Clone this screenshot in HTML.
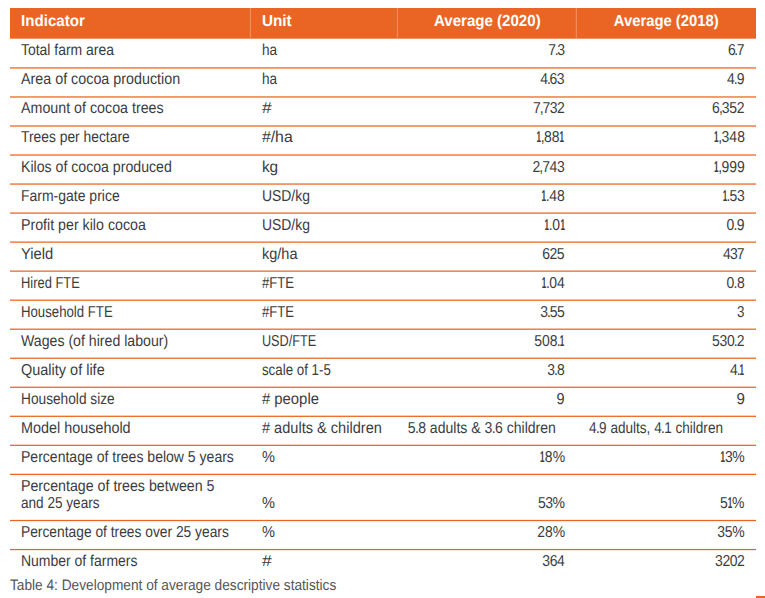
<!DOCTYPE html>
<html><head><meta charset="utf-8">
<style>
html,body{margin:0;padding:0;background:#fff;}
body{width:765px;height:598px;position:relative;overflow:hidden;font-family:"Liberation Sans",sans-serif;color:#3c3c3e;}
.bg{position:absolute;left:0;top:0;display:block;}
.t{position:absolute;white-space:nowrap;transform-origin:0 0;text-rendering:geometricPrecision;}
i{font-style:normal;}
.o{display:inline-block;font-weight:bold;transform:scaleX(0.58);margin:0 -1.55px 0 -1.9px;}
.p{margin:0 -0.75px;}
.h{color:#fff;font-weight:bold;}
.cap{color:#555557;}
</style></head><body>
<div id="rows">
<svg class="bg" width="765" height="598" viewBox="0 0 765 598"><rect x="10" y="8" width="746" height="30.7" fill="#ea6524"/><rect x="249.9" y="8" width="1" height="30.7" fill="#f3a27c" opacity="0.75"/><rect x="396.9" y="8" width="1" height="30.7" fill="#f3a27c" opacity="0.75"/><rect x="575.8" y="8" width="1" height="30.7" fill="#f3a27c" opacity="0.75"/><rect x="10" y="67.31" width="746" height="1.25" fill="#ea6524"/><rect x="10" y="96.34" width="746" height="1.25" fill="#ea6524"/><rect x="10" y="125.37" width="746" height="1.25" fill="#ea6524"/><rect x="10" y="154.40" width="746" height="1.25" fill="#ea6524"/><rect x="10" y="183.43" width="746" height="1.25" fill="#ea6524"/><rect x="10" y="212.46" width="746" height="1.25" fill="#ea6524"/><rect x="10" y="241.49" width="746" height="1.25" fill="#ea6524"/><rect x="10" y="270.51" width="746" height="1.25" fill="#ea6524"/><rect x="10" y="299.55" width="746" height="1.25" fill="#ea6524"/><rect x="10" y="328.57" width="746" height="1.25" fill="#ea6524"/><rect x="10" y="357.61" width="746" height="1.25" fill="#ea6524"/><rect x="10" y="386.64" width="746" height="1.25" fill="#ea6524"/><rect x="10" y="415.67" width="746" height="1.25" fill="#ea6524"/><rect x="10" y="444.69" width="746" height="1.25" fill="#ea6524"/><rect x="10" y="473.73" width="746" height="1.25" fill="#ea6524"/><rect x="10" y="519.88" width="746" height="1.25" fill="#ea6524"/><rect x="10" y="548.92" width="746" height="1.25" fill="#ea6524"/><rect x="756" y="596" width="9" height="2" fill="#ea6524"/></svg>
<div id="a0" class="t " style="left:21px;top:42px;font-size:15.8px;line-height:17.649px;transform:translateX(0.00px) scaleX(0.8829)">Total farm area</div>
<div id="a1" class="t " style="left:21px;top:71px;font-size:15.8px;line-height:17.649px;transform:translateX(0.00px) scaleX(0.9059)">Area of cocoa production</div>
<div id="a2" class="t " style="left:21px;top:100px;font-size:15.8px;line-height:17.649px;transform:translateX(0.00px) scaleX(0.9026)">Amount of cocoa trees</div>
<div id="a3" class="t " style="left:21px;top:129px;font-size:15.8px;line-height:17.649px;transform:translateX(0.00px) scaleX(0.8758)">Trees per hectare</div>
<div id="a4" class="t " style="left:21px;top:159px;font-size:15.8px;line-height:17.649px;transform:translateX(0.00px) scaleX(0.8942)">Kilos of cocoa produced</div>
<div id="a5" class="t " style="left:21px;top:188px;font-size:15.8px;line-height:17.649px;transform:translateX(0.00px) scaleX(0.8849)">Farm-gate price</div>
<div id="a6" class="t " style="left:21px;top:217px;font-size:15.8px;line-height:17.649px;transform:translateX(0.00px) scaleX(0.8997)">Profit per kilo cocoa</div>
<div id="a7" class="t " style="left:21px;top:246px;font-size:15.8px;line-height:17.649px;transform:translateX(0.00px) scaleX(0.9344)">Yield</div>
<div id="a8" class="t " style="left:21px;top:275px;font-size:15.8px;line-height:17.649px;transform:translateX(0.00px) scaleX(0.8171)">Hired FTE</div>
<div id="a9" class="t " style="left:21px;top:304px;font-size:15.8px;line-height:17.649px;transform:translateX(0.00px) scaleX(0.8355)">Household FTE</div>
<div id="a10" class="t " style="left:21px;top:333px;font-size:15.8px;line-height:17.649px;transform:translateX(0.00px) scaleX(0.8947)">Wages (of hired labour)</div>
<div id="a11" class="t " style="left:21px;top:362px;font-size:15.8px;line-height:17.649px;transform:translateX(0.00px) scaleX(0.9165)">Quality of life</div>
<div id="a12" class="t " style="left:21px;top:391px;font-size:15.8px;line-height:17.649px;transform:translateX(0.00px) scaleX(0.8674)">Household size</div>
<div id="a13" class="t " style="left:21px;top:420px;font-size:15.8px;line-height:17.649px;transform:translateX(0.00px) scaleX(0.9111)">Model household</div>
<div id="a14" class="t " style="left:21px;top:449px;font-size:15.8px;line-height:17.649px;transform:translateX(0.00px) scaleX(0.8880)">Percentage of trees below 5 years</div>
<div id="a15" class="t " style="left:21px;top:478px;font-size:15.8px;line-height:17.649px;transform:translateX(0.00px) scaleX(0.8992)">Percentage of trees between 5</div>
<div id="a16" class="t " style="left:21px;top:524px;font-size:15.8px;line-height:17.649px;transform:translateX(0.00px) scaleX(0.8732)">Percentage of trees over 25 years</div>
<div id="a17" class="t " style="left:21px;top:553px;font-size:15.8px;line-height:17.649px;transform:translateX(0.00px) scaleX(0.8846)">Number of farmers</div>
<div id="a15b" class="t " style="left:21px;top:495px;font-size:15.8px;line-height:17.649px;transform:translateX(0.00px) scaleX(0.8594)">and 25 years</div>
<div id="b0" class="t " style="left:261px;top:42px;font-size:15.8px;line-height:17.649px;transform:translateX(0.90px) scaleX(0.8580)">ha</div>
<div id="b1" class="t " style="left:261px;top:71px;font-size:15.8px;line-height:17.649px;transform:translateX(0.90px) scaleX(0.8580)">ha</div>
<div id="b2" class="t " style="left:261px;top:100px;font-size:15.8px;line-height:17.649px;transform:translateX(0.90px) scaleX(1.1057)">#</div>
<div id="b3" class="t " style="left:261px;top:129px;font-size:15.8px;line-height:17.649px;transform:translateX(0.90px) scaleX(1.0024)">#/ha</div>
<div id="b4" class="t " style="left:261px;top:159px;font-size:15.8px;line-height:17.649px;transform:translateX(0.90px) scaleX(0.9754)">kg</div>
<div id="b5" class="t " style="left:261px;top:188px;font-size:15.8px;line-height:17.649px;transform:translateX(0.90px) scaleX(0.8831)">USD/kg</div>
<div id="b6" class="t " style="left:261px;top:217px;font-size:15.8px;line-height:17.649px;transform:translateX(0.90px) scaleX(0.8831)">USD/kg</div>
<div id="b7" class="t " style="left:261px;top:246px;font-size:15.8px;line-height:17.649px;transform:translateX(0.90px) scaleX(0.9219)">kg/ha</div>
<div id="b8" class="t " style="left:261px;top:275px;font-size:15.8px;line-height:17.649px;transform:translateX(0.90px) scaleX(0.8312)">#FTE</div>
<div id="b9" class="t " style="left:261px;top:304px;font-size:15.8px;line-height:17.649px;transform:translateX(0.90px) scaleX(0.8312)">#FTE</div>
<div id="b10" class="t " style="left:261px;top:333px;font-size:15.8px;line-height:17.649px;transform:translateX(0.90px) scaleX(0.8035)">USD/FTE</div>
<div id="b11" class="t " style="left:261px;top:362px;font-size:15.8px;line-height:17.649px;transform:translateX(0.90px) scaleX(0.8452)">scale of 1-5</div>
<div id="b12" class="t " style="left:261px;top:391px;font-size:15.8px;line-height:17.649px;transform:translateX(0.90px) scaleX(0.9414)"># people</div>
<div id="b13" class="t " style="left:261px;top:420px;font-size:15.8px;line-height:17.649px;transform:translateX(0.90px) scaleX(0.9230)"># adults &amp; children</div>
<div id="b14" class="t " style="left:261px;top:449px;font-size:15.8px;line-height:17.649px;transform:translateX(0.90px) scaleX(0.9202)">%</div>
<div id="b15" class="t " style="left:261px;top:495px;font-size:15.8px;line-height:17.649px;transform:translateX(0.90px) scaleX(0.9202)">%</div>
<div id="b16" class="t " style="left:261px;top:524px;font-size:15.8px;line-height:17.649px;transform:translateX(0.90px) scaleX(0.9202)">%</div>
<div id="b17" class="t " style="left:261px;top:553px;font-size:15.8px;line-height:17.649px;transform:translateX(0.90px) scaleX(1.1057)">#</div>
<div id="c0" class="t " style="left:548px;top:42px;font-size:15.8px;line-height:17.649px;letter-spacing:-0.681px;transform:translateX(0.16px) scaleX(0.8850)">7<i class="p">.</i>3</div>
<div id="c1" class="t " style="left:540px;top:71px;font-size:15.8px;line-height:17.649px;letter-spacing:-0.605px;transform:translateX(0.31px) scaleX(0.8850)">4<i class="p">.</i>63</div>
<div id="c2" class="t " style="left:533px;top:100px;font-size:15.8px;line-height:17.649px;letter-spacing:-0.578px;transform:translateX(0.12px) scaleX(0.8850)">7<i class="p">,</i>732</div>
<div id="c3" class="t " style="left:536px;top:129px;font-size:15.8px;line-height:17.649px;letter-spacing:0.042px;transform:translateX(0.58px) scaleX(0.8850)"><i class="o">1</i><i class="p">,</i>88<i class="o">1</i></div>
<div id="c4" class="t " style="left:532px;top:159px;font-size:15.8px;line-height:17.649px;letter-spacing:-0.414px;transform:translateX(0.53px) scaleX(0.8850)">2<i class="p">,</i>743</div>
<div id="c5" class="t " style="left:541px;top:188px;font-size:15.8px;line-height:17.649px;letter-spacing:0.049px;transform:translateX(0.75px) scaleX(0.8850)"><i class="o">1</i><i class="p">.</i>48</div>
<div id="c6" class="t " style="left:544px;top:217px;font-size:15.8px;line-height:17.649px;letter-spacing:0.122px;transform:translateX(0.68px) scaleX(0.8850)"><i class="o">1</i><i class="p">.</i>0<i class="o">1</i></div>
<div id="c7" class="t " style="left:542px;top:246px;font-size:15.8px;line-height:17.649px;letter-spacing:-0.542px;transform:translateX(0.25px) scaleX(0.8850)">625</div>
<div id="c8" class="t " style="left:541px;top:275px;font-size:15.8px;line-height:17.649px;letter-spacing:0.107px;transform:translateX(0.75px) scaleX(0.8850)"><i class="o">1</i><i class="p">.</i>04</div>
<div id="c9" class="t " style="left:540px;top:304px;font-size:15.8px;line-height:17.649px;letter-spacing:-0.544px;transform:translateX(0.31px) scaleX(0.8850)">3<i class="p">.</i>55</div>
<div id="c10" class="t " style="left:534px;top:333px;font-size:15.8px;line-height:17.649px;letter-spacing:-0.034px;transform:translateX(0.19px) scaleX(0.8850)">508<i class="p">.</i><i class="o">1</i></div>
<div id="c11" class="t " style="left:547px;top:362px;font-size:15.8px;line-height:17.649px;letter-spacing:-0.401px;transform:translateX(0.31px) scaleX(0.8850)">3<i class="p">.</i>8</div>
<div id="c12" class="t " style="left:556px;top:391px;font-size:15.8px;line-height:17.649px;transform:translateX(0.62px) scaleX(0.9161)">9</div>
<div id="c14" class="t " style="left:540px;top:449px;font-size:15.8px;line-height:17.649px;letter-spacing:0.054px;transform:translateX(0.06px) scaleX(0.8850)"><i class="o">1</i>8%</div>
<div id="c15" class="t " style="left:538px;top:495px;font-size:15.8px;line-height:17.649px;letter-spacing:-0.576px;transform:translateX(0.04px) scaleX(0.8850)">53%</div>
<div id="c16" class="t " style="left:537px;top:524px;font-size:15.8px;line-height:17.649px;letter-spacing:-0.048px;transform:translateX(0.21px) scaleX(0.8850)">28%</div>
<div id="c17" class="t " style="left:542px;top:553px;font-size:15.8px;line-height:17.649px;letter-spacing:-0.438px;transform:translateX(0.31px) scaleX(0.8850)">364</div>
<div id="d0" class="t " style="left:727px;top:42px;font-size:15.8px;line-height:17.649px;letter-spacing:-0.859px;transform:translateX(0.94px) scaleX(0.8850)">6<i class="p">.</i>7</div>
<div id="d1" class="t " style="left:727px;top:71px;font-size:15.8px;line-height:17.649px;letter-spacing:-0.444px;transform:translateX(0.08px) scaleX(0.8850)">4<i class="p">.</i>9</div>
<div id="d2" class="t " style="left:712px;top:100px;font-size:15.8px;line-height:17.649px;letter-spacing:-0.371px;transform:translateX(0.12px) scaleX(0.8850)">6<i class="p">,</i>352</div>
<div id="d3" class="t " style="left:714px;top:129px;font-size:15.8px;line-height:17.649px;letter-spacing:0.056px;transform:translateX(0.08px) scaleX(0.8850)"><i class="o">1</i><i class="p">,</i>348</div>
<div id="d4" class="t " style="left:714px;top:159px;font-size:15.8px;line-height:17.649px;letter-spacing:0.006px;transform:translateX(0.08px) scaleX(0.8850)"><i class="o">1</i><i class="p">,</i>999</div>
<div id="d5" class="t " style="left:722px;top:188px;font-size:15.8px;line-height:17.649px;letter-spacing:-0.394px;transform:translateX(0.88px) scaleX(0.8850)"><i class="o">1</i><i class="p">.</i>53</div>
<div id="d6" class="t " style="left:726px;top:217px;font-size:15.8px;line-height:17.649px;letter-spacing:0.011px;transform:translateX(0.40px) scaleX(0.8850)">0<i class="p">.</i>9</div>
<div id="d7" class="t " style="left:723px;top:246px;font-size:15.8px;line-height:17.649px;letter-spacing:-0.997px;transform:translateX(0.08px) scaleX(0.8850)">437</div>
<div id="d8" class="t " style="left:726px;top:275px;font-size:15.8px;line-height:17.649px;letter-spacing:0.113px;transform:translateX(0.40px) scaleX(0.8850)">0<i class="p">.</i>8</div>
<div id="d9" class="t " style="left:736px;top:304px;font-size:15.8px;line-height:17.649px;transform:translateX(0.94px) scaleX(0.8480)">3</div>
<div id="d10" class="t " style="left:712px;top:333px;font-size:15.8px;line-height:17.649px;letter-spacing:-0.373px;transform:translateX(0.11px) scaleX(0.8850)">530<i class="p">.</i>2</div>
<div id="d11" class="t " style="left:729px;top:362px;font-size:15.8px;line-height:17.649px;letter-spacing:-0.308px;transform:translateX(0.96px) scaleX(0.8850)">4<i class="p">.</i><i class="o">1</i></div>
<div id="d12" class="t " style="left:736px;top:391px;font-size:15.8px;line-height:17.649px;transform:translateX(0.43px) scaleX(0.9573)">9</div>
<div id="d14" class="t " style="left:720px;top:449px;font-size:15.8px;line-height:17.649px;letter-spacing:-0.534px;transform:translateX(0.69px) scaleX(0.8850)"><i class="o">1</i>3%</div>
<div id="d15" class="t " style="left:719px;top:495px;font-size:15.8px;line-height:17.649px;letter-spacing:-0.263px;transform:translateX(0.90px) scaleX(0.8850)">5<i class="o">1</i>%</div>
<div id="d16" class="t " style="left:717px;top:524px;font-size:15.8px;line-height:17.649px;letter-spacing:-0.291px;transform:translateX(0.32px) scaleX(0.8850)">35%</div>
<div id="d17" class="t " style="left:715px;top:553px;font-size:15.8px;line-height:17.649px;letter-spacing:-0.571px;transform:translateX(0.12px) scaleX(0.8850)">3202</div>
<div id="c13" class="t " style="left:407px;top:420px;font-size:15.8px;line-height:17.649px;transform:translateX(0.74px) scaleX(0.8897)">5<i class="p">.</i>8 adults &amp; 3<i class="p">.</i>6 children</div>
<div id="d13" class="t " style="left:589px;top:420px;font-size:15.8px;line-height:17.649px;transform:translateX(0.08px) scaleX(0.8584)">4<i class="p">.</i>9 adults, 4<i class="p">.</i>1 children</div>
<div id="h0" class="t h" style="left:21px;top:13px;font-size:16.0px;line-height:17.872px;transform:translateX(0.00px) scaleX(0.9456)">Indicator</div>
<div id="h1" class="t h" style="left:261px;top:13px;font-size:16.0px;line-height:17.872px;transform:translateX(0.90px) scaleX(0.9562)">Unit</div>
<div id="h2" class="t h" style="left:433px;top:13px;font-size:16.0px;line-height:17.872px;transform:translateX(0.98px) scaleX(0.9419)">Average (2020)</div>
<div id="h3" class="t h" style="left:613px;top:13px;font-size:16.0px;line-height:17.872px;transform:translateX(0.83px) scaleX(0.9255)">Average (2018)</div>
<div id="cap" class="t cap" style="left:10px;top:578px;font-size:15.1px;line-height:16.867px;transform:translateX(0.00px) scaleX(0.9065)">Table 4: Development of average descriptive statistics</div>
</div><!--end-->
</body></html>
